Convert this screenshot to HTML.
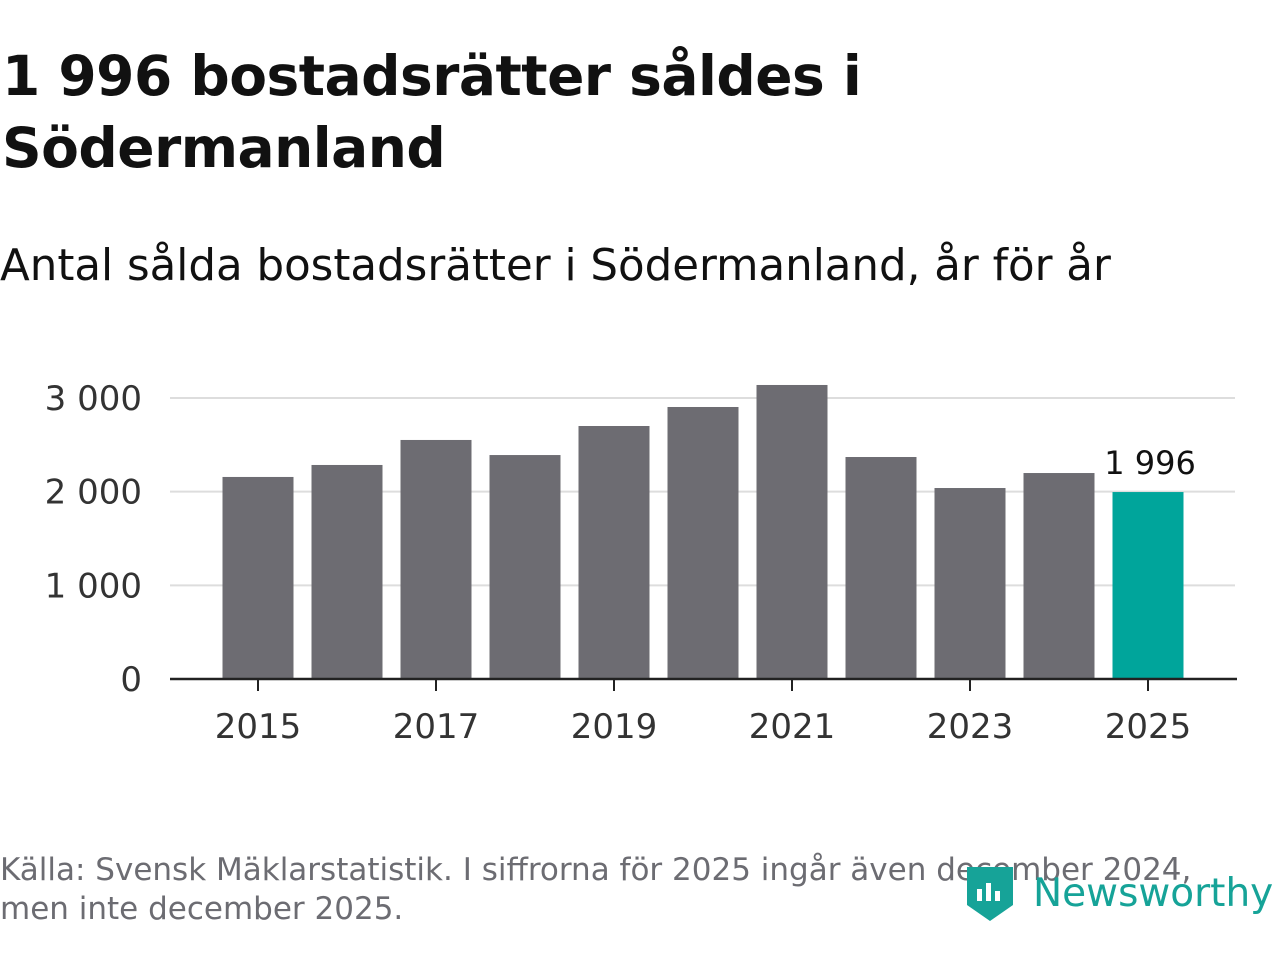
<!DOCTYPE html>
<html><head><meta charset="utf-8"><style>
body{margin:0;width:1280px;height:960px;background:#fff;font-family:"DejaVu Sans","Liberation Sans",sans-serif;overflow:hidden;position:relative}
h1{position:absolute;left:2px;top:40px;margin:0;font-size:55px;line-height:72px;font-weight:bold;color:#111;letter-spacing:-0.5px}
.sub{position:absolute;left:0;top:241px;font-size:43.5px;color:#111;letter-spacing:0px}
.src{position:absolute;left:0;top:851px;font-size:31px;line-height:39px;color:#6c6c72;letter-spacing:0px}
.logo{position:absolute;left:965px;top:863px;font-size:39px;color:#16a398;font-weight:normal;display:flex;align-items:center;gap:18px}
</style></head><body>
<h1>1 996 bostadsrätter såldes i<br>Södermanland</h1>
<div class="sub">Antal sålda bostadsrätter i Södermanland, år för år</div>
<svg id="chart" width="1280" height="800" style="position:absolute;left:0;top:0"></svg>
<div class="src">Källa: Svensk Mäklarstatistik. I siffrorna för 2025 ingår även december 2024,<br>men inte december 2025.</div>
<div class="logo"><svg width="50" height="60" viewBox="0 0 50 60"><path d="M2 4h46v38l-23 16-23-16z" fill="#16a398"/><rect x="12" y="26" width="5" height="12" fill="#fff"/><rect x="21" y="20" width="5" height="18" fill="#fff"/><rect x="30" y="28" width="5" height="10" fill="#fff"/></svg><span>Newsworthy</span></div>
<script>
const years=[2015,2016,2017,2018,2019,2020,2021,2022,2023,2024,2025];
const values=[2157,2285,2552,2391,2701,2904,3139,2370,2039,2199,1996];
const yTicks=[0,1000,2000,3000];
const yTickLabels=["0","1 000","2 000","3 000"];
const xTickYears=[2015,2017,2019,2021,2023,2025];
const NS="http://www.w3.org/2000/svg";
const svg=document.getElementById('chart');
const y0=679,pxPer=(679-398)/3000;
const y=v=>y0-v*pxPer;
const x=yr=>258+(yr-2015)*89;
const bw=71;
function mk(t,a){const e=document.createElementNS(NS,t);for(const k in a)e.setAttribute(k,a[k]);svg.appendChild(e);return e;}
yTicks.forEach((t,i)=>{
 if(t>0){const l=mk('line',{x1:170,x2:1235,y1:y(t),y2:y(t),stroke:'#ddd','stroke-width':2});
 
 }
 const tx=mk('text',{x:142,y:y(t)+12,'text-anchor':'end','font-size':34,fill:'#333','font-family':'DejaVu Sans, Liberation Sans, sans-serif'});
 tx.textContent=yTickLabels[i];
 
 
});
years.forEach((yr,i)=>{
 const last=i===years.length-1;
 const r=mk('rect',{x:x(yr)-bw/2,y:y(values[i]),width:bw,height:y0-y(values[i]),fill:last?'#00a59b':'#6d6c72'});
 
 
 if(last){const t=mk('text',{x:x(yr)+2,y:y(values[i])-18,'text-anchor':'middle','font-size':32,fill:'#111','font-family':'DejaVu Sans, Liberation Sans, sans-serif'});
 t.textContent=values[i].toLocaleString('sv-SE').replace(/\u00a0/g,' ');
 
 }
});
const ax=mk('line',{x1:170,x2:1237,y1:y0,y2:y0,stroke:'#222','stroke-width':2.5});


xTickYears.forEach(yr=>{
 const tk=mk('line',{x1:x(yr),x2:x(yr),y1:y0,y2:y0+12,stroke:'#222','stroke-width':2});
 
 
 const t=mk('text',{x:x(yr),y:738,'text-anchor':'middle','font-size':34,fill:'#333','font-family':'DejaVu Sans, Liberation Sans, sans-serif'});
 t.textContent=yr;
 
 
});
</script>
</body></html>
